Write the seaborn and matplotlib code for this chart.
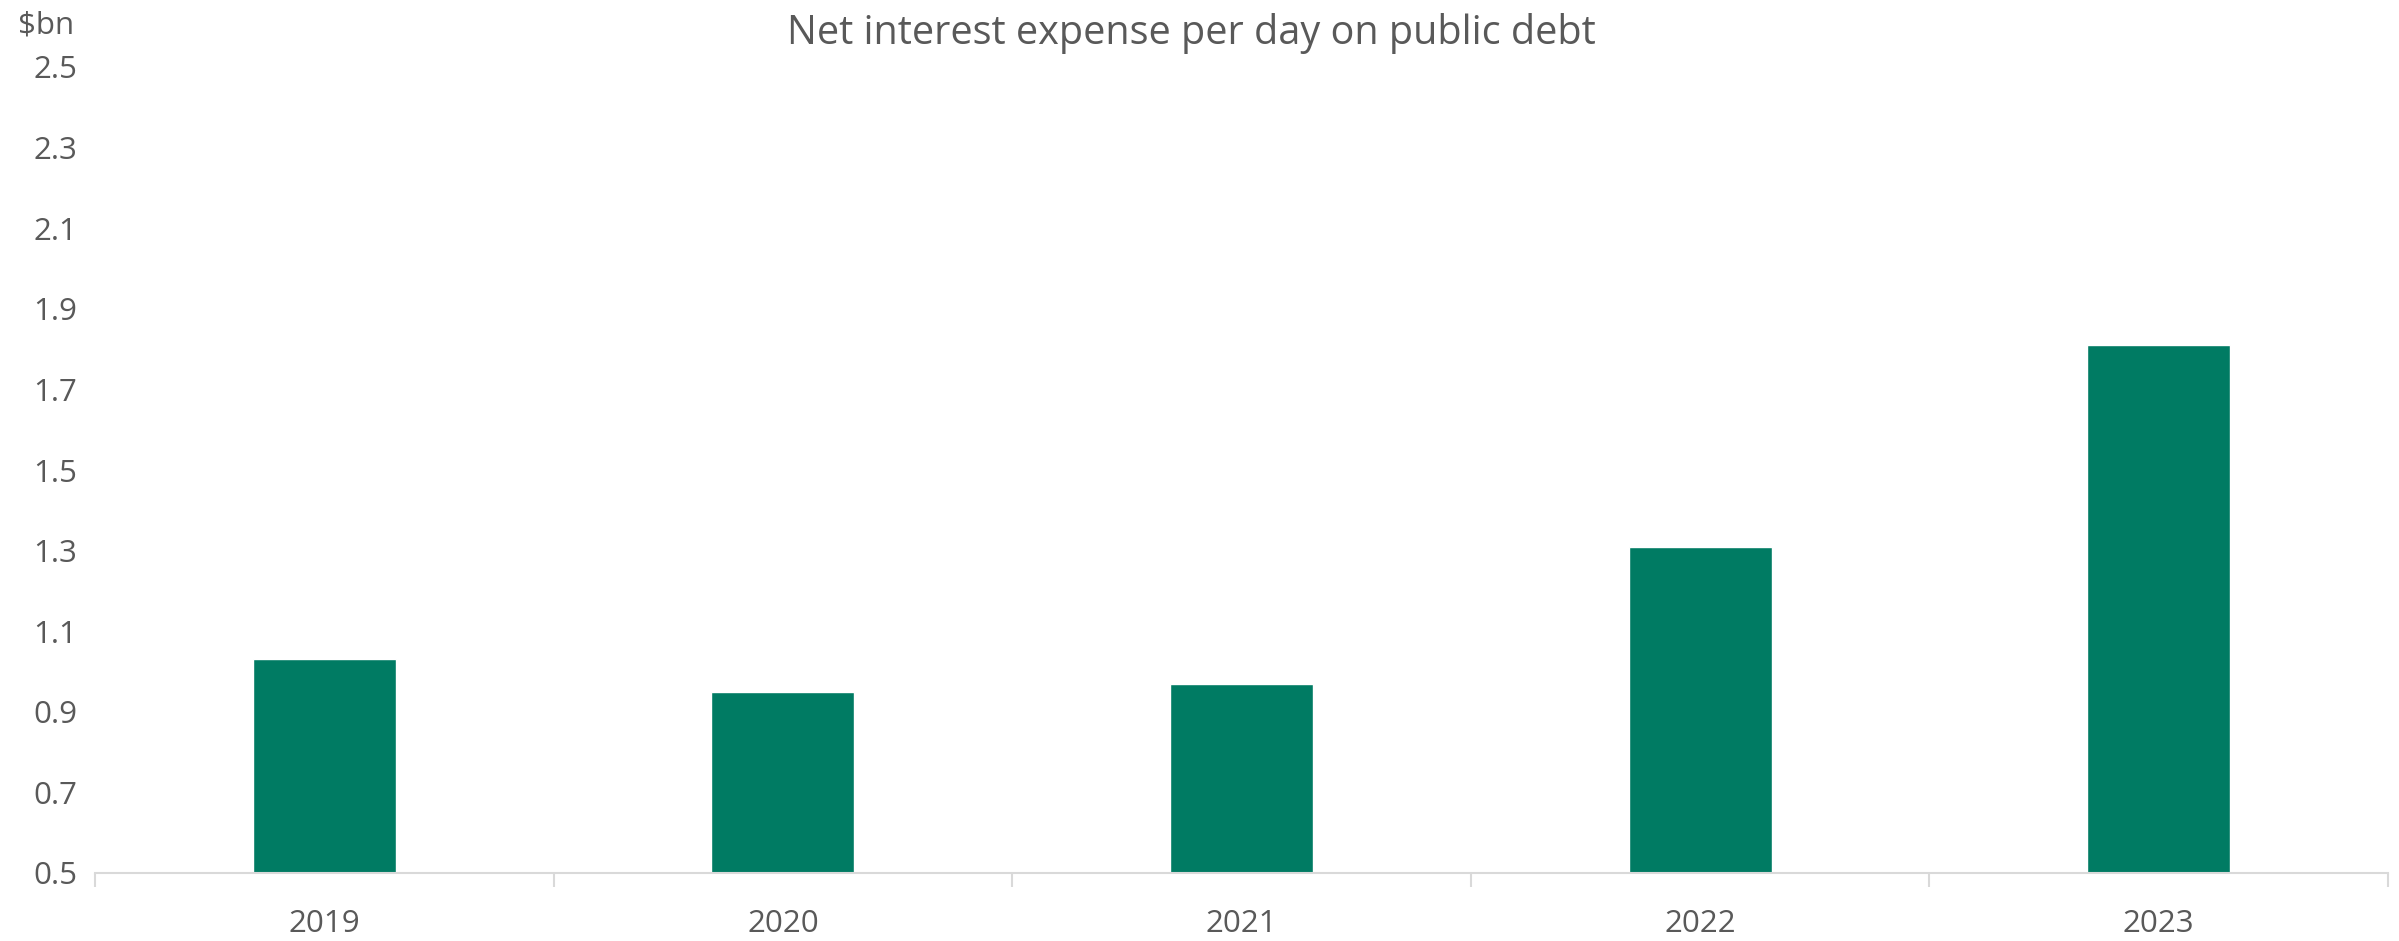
import numpy as np
import pandas as pd
import matplotlib
matplotlib.use("Agg")
import matplotlib.pyplot as plt
import seaborn as sns

years = ["2019", "2020", "2021", "2022", "2023"]
values = [1.03, 0.95, 0.97, 1.31, 1.81]
y_ticks = [0.5, 0.7, 0.9, 1.1, 1.3, 1.5, 1.7, 1.9, 2.1, 2.3, 2.5]
title = "Net interest expense per day on public debt"
unit_label = "$bn"

sns.set_theme(style="white")
plt.rcParams["font.family"] = ["Open Sans", "DejaVu Sans"]

W, H = 2399, 941
fig = plt.figure(figsize=(W / 100, H / 100), dpi=100)
ax = fig.add_axes([95 / W, 1 - 873 / H, (2388 - 95) / W, (873 - 67) / H])

df = pd.DataFrame({"year": years, "value": values})
sns.barplot(data=df, x="year", y="value", color="#007B63", saturation=1,
            width=0.312, ax=ax)

grey = "#595959"
ax.set_xlim(-0.5, 4.5)
ax.set_ylim(0.5, 2.5)
ax.set_yticks(y_ticks)
ax.set_yticklabels([f"{v:.1f}" for v in y_ticks])
ax.set_xlabel("")
ax.set_ylabel("")

for s in ["top", "right", "left"]:
    ax.spines[s].set_visible(False)
ax.spines["bottom"].set_color("#D9D9D9")
ax.spines["bottom"].set_linewidth(1.5)

ax.tick_params(axis="y", length=0, pad=13, labelsize=22.5, labelcolor=grey)
ax.tick_params(axis="x", which="major", length=0, pad=26, labelsize=22.5, labelcolor=grey)
ax.set_xticks(np.arange(-0.5, 5, 1), minor=True)
ax.tick_params(axis="x", which="minor", length=10, width=1.5, color="#D9D9D9",
               direction="out", bottom=True)

fig.text(1191 / W, 1 - 34 / H, title, ha="center", va="center",
         fontsize=28.5, color=grey)
fig.text(18 / W, 1 - 26 / H, unit_label, ha="left", va="center",
         fontsize=22.5, color=grey)

fig.savefig("out.png", dpi=100, facecolor="white")
